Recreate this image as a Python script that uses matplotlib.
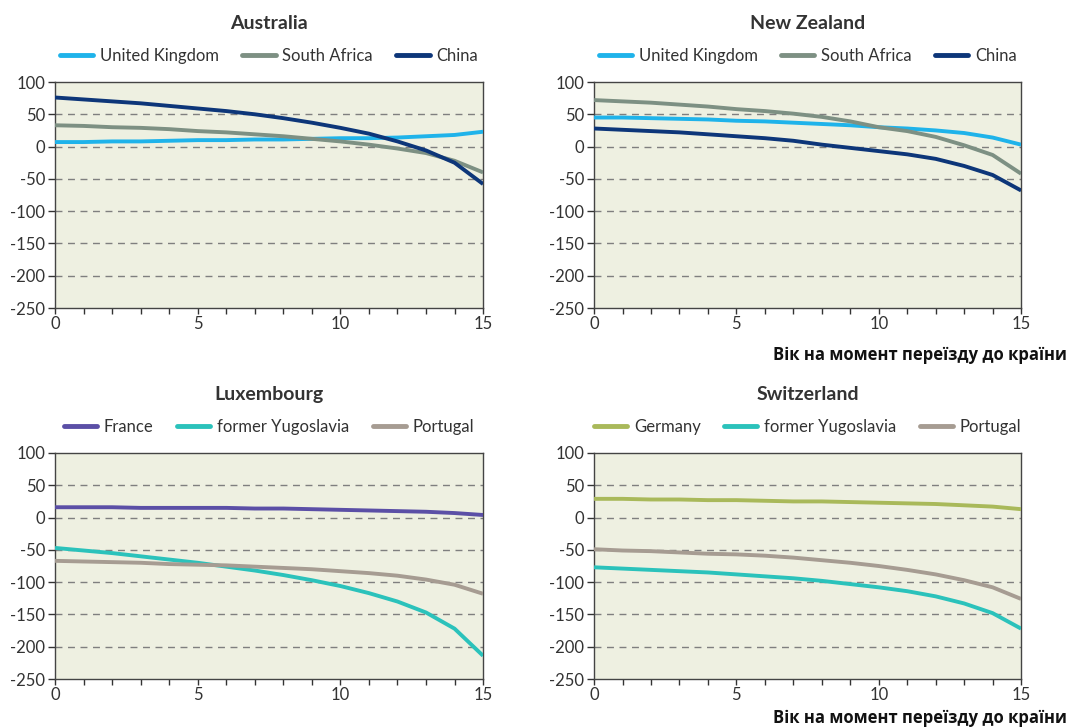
import matplotlib.pyplot as plt
import numpy as np

age = list(range(16))

# Australia
au_uk = [7, 7, 8, 8, 9, 10, 10, 11, 11, 12, 13, 13, 14, 16, 18, 23]
au_sa = [33, 32, 30, 29, 27, 24, 22, 19, 16, 12, 8, 3, -3, -10, -22, -40]
au_cn = [76, 73, 70, 67, 63, 59, 55, 50, 44, 37, 29, 20, 8, -6, -25, -58]

# New Zealand
nz_uk = [45, 45, 44, 43, 42, 40, 39, 37, 35, 33, 30, 28, 25, 21, 14, 3]
nz_sa = [72, 70, 68, 65, 62, 58, 55, 51, 46, 39, 30, 24, 15, 2, -13, -42]
nz_cn = [28, 26, 24, 22, 19, 16, 13, 9, 3, -2, -7, -12, -19, -30, -44, -68]

# Luxembourg
lu_fr = [16, 16, 16, 15, 15, 15, 15, 14, 14, 13, 12, 11, 10, 9, 7, 4]
lu_yu = [-47, -51, -55, -60, -65, -70, -76, -82, -89, -97, -106, -117, -130, -147, -172, -214]
lu_pt = [-67, -68, -69, -70, -72, -73, -74, -76, -78, -80, -83, -86, -90, -96, -104, -118]

# Switzerland
ch_de = [29, 29, 28, 28, 27, 27, 26, 25, 25, 24, 23, 22, 21, 19, 17, 13]
ch_yu = [-77, -79, -81, -83, -85, -88, -91, -94, -98, -103, -108, -114, -122, -133, -148, -172]
ch_pt = [-49, -51, -52, -54, -56, -57, -59, -62, -66, -70, -75, -81, -88, -97, -108, -126]

panels = [
    ("Australia", [("United Kingdom", au_uk, "#1fb3ea"), ("South Africa", au_sa, "#7d9083"), ("China", au_cn, "#0d3679")]),
    ("New Zealand", [("United Kingdom", nz_uk, "#1fb3ea"), ("South Africa", nz_sa, "#7d9083"), ("China", nz_cn, "#0d3679")]),
    ("Luxembourg", [("France", lu_fr, "#5b4fa6"), ("former Yugoslavia", lu_yu, "#2bc2bb"), ("Portugal", lu_pt, "#a69c92")]),
    ("Switzerland", [("Germany", ch_de, "#a9b95a"), ("former Yugoslavia", ch_yu, "#2bc2bb"), ("Portugal", ch_pt, "#a69c92")]),
]

rects = [
    [0.0515, 0.5763, 0.4004, 0.3109],
    [0.5557, 0.5763, 0.3995, 0.3109],
    [0.0515, 0.0660, 0.4004, 0.3109],
    [0.5557, 0.0660, 0.3995, 0.3109],
]

plt.rcParams['font.family'] = ['Lato', 'DejaVu Sans']
plt.rcParams['axes.unicode_minus'] = False

fig = plt.figure(figsize=(10.69, 7.27), dpi=100)

for (title, series), rect in zip(panels, rects):
    ax = fig.add_axes(rect)
    ax.set_facecolor("#eef0e1")
    for y in [50, 0, -50, -100, -150, -200]:
        ax.axhline(y, color="#7f7f7f", lw=1, ls=(0, (5, 4)), zorder=1)
    handles = []
    for name, vals, col in series:
        h, = ax.plot(age, vals, color=col, lw=2.8, label=name, zorder=3,
                     solid_capstyle="butt")
        handles.append(h)
    ax.set_xlim(0, 15)
    ax.set_ylim(-250, 100)
    ax.set_xticks([0, 5, 10, 15])
    ax.set_xticks(range(16), minor=True)
    ax.set_yticks(range(-250, 101, 50))
    ax.tick_params(axis="x", which="both", direction="out", length=4, width=1, colors="#333333", labelsize=12, pad=2)
    ax.tick_params(axis="y", direction="out", length=5, width=1, colors="#333333", labelsize=12, pad=2)
    for s in ax.spines.values():
        s.set_color("#444444")
        s.set_linewidth(1)
    ax.set_title(title, fontsize=14, fontweight="bold", color="#333333", pad=38)
    leg = ax.legend(handles=handles, loc="lower center", bbox_to_anchor=(0.5, 1.035), ncol=3,
                    frameon=False, fontsize=12, handlelength=2.0, handletextpad=0.4,
                    columnspacing=1.4, borderaxespad=0.2, labelcolor="#333333")
    for lh in leg.get_lines():
        lh.set_linewidth(3.5)
        lh.set_solid_capstyle("round")

fig.text(0.998, 0.512, "Вік на момент переїзду до країни", ha="right", va="center",
         fontsize=12, fontweight="bold", family=["Open Sans", "DejaVu Sans"], color="#111111")
fig.text(0.998, 0.012, "Вік на момент переїзду до країни", ha="right", va="center",
         fontsize=12, fontweight="bold", family=["Open Sans", "DejaVu Sans"], color="#111111")

fig.savefig("out.png", dpi=100)
